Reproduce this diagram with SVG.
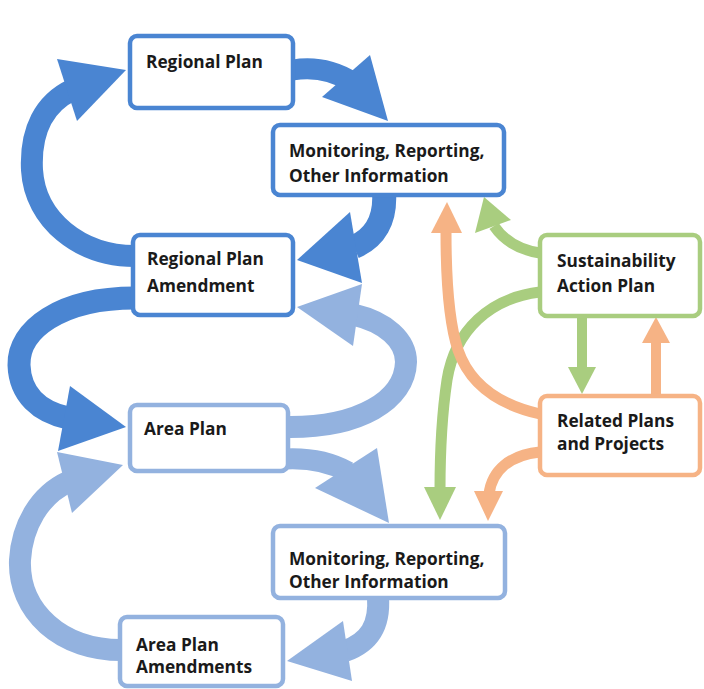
<svg xmlns="http://www.w3.org/2000/svg" width="704" height="689" viewBox="0 0 704 689">
<style>
.box{fill:#fff;stroke-width:4.5}
.dk{stroke:#4a85d2}
.lt{stroke:#93b2df}
.gr{stroke:#a9cd7f}
.or{stroke:#f6b385}
.sh{fill:none}
.t{font-family:"Open Sans","Liberation Sans",sans-serif;font-weight:bold;font-size:17.3px;fill:#1a1a1a}
</style>
<rect width="704" height="689" fill="#fff"/>
<g id="connectors">
  <!-- dark blue -->
  <path class="sh dk" stroke-width="21" d="M 293 70 C 318 66 336 72 352 82"/>
  <polygon fill="#4a85d2" points="388,121 370,55 322,97"/>
  <path class="sh dk" stroke-width="22" d="M 135 256 C 80 256 35 220 32 170 C 30 130 45 103 72 90"/>
  <polygon fill="#4a85d2" points="126,70 57,59 77,121"/>
  <path class="sh dk" stroke-width="24" d="M 384 192 C 386 220 375 238 354 247"/>
  <polygon fill="#4a85d2" points="297,260 350,212 362,283"/>
  <path class="sh dk" stroke-width="23" d="M 135 298 C 60 298 18 330 19 365 C 20 395 40 412 68 418"/>
  <polygon fill="#4a85d2" points="126,427 70,386 58,451"/>
  <!-- light blue -->
  <path class="sh lt" stroke-width="22" d="M 286 427 C 360 428 405 400 406 362 C 406 340 385 322 355 315"/>
  <polygon fill="#93b2df" points="297,307 362,284 353,346"/>
  <path class="sh lt" stroke-width="21" d="M 286 459 C 310 458 330 462 348 472"/>
  <polygon fill="#93b2df" points="389,523 377,448 315,488"/>
  <path class="sh lt" stroke-width="22" d="M 378 597 C 380 625 370 642 345 651"/>
  <polygon fill="#93b2df" points="287,661 343,621 352,681"/>
  <path class="sh lt" stroke-width="22" d="M 126 650 C 60 652 18 610 20 560 C 22 525 40 495 68 482"/>
  <polygon fill="#93b2df" points="123,465 57,452 72,513"/>
  <!-- green -->
  <path class="sh gr" stroke-width="11" d="M 540 253 C 520 250 505 242 494 226"/>
  <polygon fill="#a9cd7f" points="484,197 475,233 511,220"/>
  <path class="sh gr" stroke-width="11" d="M 540 292 C 490 298 455 330 447 380 C 441 420 440 460 440 490"/>
  <polygon fill="#a9cd7f" points="440,520 424,487 456,487"/>
  <path class="sh gr" stroke-width="10" d="M 582 316 L 582 370"/>
  <polygon fill="#a9cd7f" points="582,394 568,367 596,367"/>
  <!-- orange -->
  <path class="sh or" stroke-width="10" d="M 656 396 L 656 340"/>
  <polygon fill="#f6b385" points="656,317 642,343 670,343"/>
  <path class="sh or" stroke-width="11" d="M 540 414 C 500 405 470 385 458 350 C 448 320 446 270 446 232"/>
  <polygon fill="#f6b385" points="447,202 431,233 462,233"/>
  <path class="sh or" stroke-width="11" d="M 540 452 C 510 455 492 470 489 494"/>
  <polygon fill="#f6b385" points="488,521 474,491 503,491"/>
</g>
<g id="regional-plan">
  <rect class="box dk" x="130" y="36" width="163" height="72" rx="7"/>
  <text class="t" x="146" y="68">Regional Plan</text>
</g>
<g id="monitoring-1">
  <rect class="box dk" x="273" y="125" width="231" height="70" rx="7"/>
  <text class="t" x="289" y="157">Monitoring, Reporting,</text>
  <text class="t" x="289" y="182">Other Information</text>
</g>
<g id="regional-plan-amendment">
  <rect class="box dk" x="133" y="235" width="160" height="80" rx="7"/>
  <text class="t" x="147" y="265">Regional Plan</text>
  <text class="t" x="147" y="292">Amendment</text>
</g>
<g id="area-plan">
  <rect class="box lt" x="130" y="405" width="158" height="66" rx="7"/>
  <text class="t" x="144" y="435">Area Plan</text>
</g>
<g id="monitoring-2">
  <rect class="box lt" x="273" y="526" width="232" height="72" rx="7"/>
  <text class="t" x="289" y="565">Monitoring, Reporting,</text>
  <text class="t" x="289" y="588">Other Information</text>
</g>
<g id="area-plan-amendments">
  <rect class="box lt" x="120" y="617" width="163" height="69" rx="7"/>
  <text class="t" x="136" y="651">Area Plan</text>
  <text class="t" x="136" y="673">Amendments</text>
</g>
<g id="sustainability-action-plan">
  <rect class="box gr" x="540" y="235" width="160" height="81" rx="7"/>
  <text class="t" x="557" y="267">Sustainability</text>
  <text class="t" x="557" y="292">Action Plan</text>
</g>
<g id="related-plans">
  <rect class="box or" x="540" y="396" width="160" height="79" rx="7"/>
  <text class="t" x="557" y="427">Related Plans</text>
  <text class="t" x="557" y="450">and Projects</text>
</g>
</svg>
